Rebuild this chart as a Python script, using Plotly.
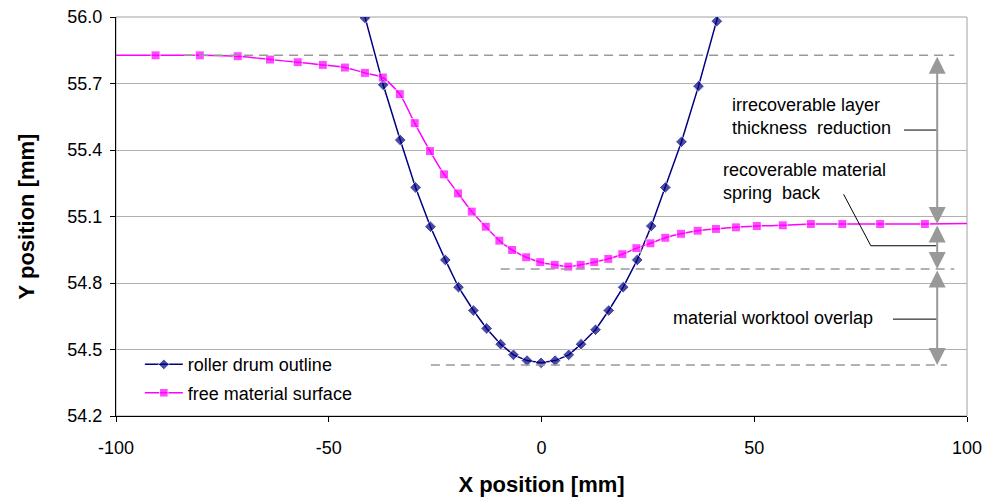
import plotly.graph_objects as go

# ---- data ----
drum_x = [-45.0, -41.5, -37.2, -33.2, -29.6, -26.1, -22.6, -19.5, -16.0, -12.9, -9.6, -6.6, -3.4, -0.1,
          3.2, 6.4, 9.3, 12.7, 15.8, 19.2, 22.5, 25.8, 29.1, 32.9, 36.9, 41.2, 45.0]
drum_y = [56.25, 55.996, 55.694, 55.445, 55.231, 55.054, 54.904, 54.781, 54.676, 54.595, 54.524, 54.476,
          54.450, 54.440, 54.450, 54.476, 54.524, 54.589, 54.676, 54.781, 54.904, 55.057, 55.231,
          55.437, 55.688, 55.981, 56.25]
drum_marker = [0] + [9] * 25 + [0]

mat_x = [-101.0, -90.7, -80.3, -71.4, -63.8, -57.3, -51.4, -46.2, -41.5, -37.3, -33.3, -29.8, -26.2,
         -22.9, -19.6, -16.4, -13.1, -9.9, -6.9, -3.6, -0.3, 3.1, 6.3, 9.2, 12.4, 15.7, 19.0, 22.3,
         25.6, 29.1, 32.8, 36.7, 41.0, 45.7, 50.6, 56.7, 63.3, 70.7, 79.6, 90.1, 101.0]
mat_y = [55.827, 55.827, 55.827, 55.823, 55.808, 55.796, 55.784, 55.772, 55.748, 55.727, 55.652, 55.521,
         55.395, 55.290, 55.204, 55.122, 55.054, 54.991, 54.949, 54.916, 54.894, 54.882, 54.874,
         54.882, 54.894, 54.909, 54.930, 54.957, 54.979, 55.004, 55.022, 55.036, 55.044, 55.051,
         55.057, 55.060, 55.066, 55.066, 55.066, 55.066, 55.069]
mat_marker = [0] + [9] * 39 + [0]

# reference levels (dashed lines): level, x start, x end
ref_levels = [55.827, 54.863, 54.430]
ref_start = [-84.0, -9.6, -26.0]
ref_end = [97.0, 97.0, 95.3]

# dimension arrows at x = arrow_x: (from, to)
arrow_x = 93.0
arrow_spans = [(55.827, 55.066), (55.066, 54.863), (54.863, 54.430)]

# labels: text, x, y, leader line points
labels = ["irrecoverable layer<br>thickness  reduction",
          "recoverable material<br>spring  back",
          "material worktool overlap"]
label_x = [44.4, 42.2, 30.4]
label_y = [55.55, 55.257, 54.641]
leaders = [[(85.2, 55.49), (93.0, 55.49)],
           [(71.0, 55.20), (77.4, 54.968), (92.8, 54.968)],
           [(82.6, 54.637), (92.9, 54.637)]]

x_ticks = [-100, -50, 0, 50, 100]
x_ticktext = ["-100", "-50", "0", "50", "100"]
y_ticks = [54.2, 54.5, 54.8, 55.1, 55.4, 55.7, 56.0]

FONT = "Arial, Liberation Sans, sans-serif"
GRAY = "#999999"

fig = go.Figure()
fig.add_trace(go.Scatter(
    x=drum_x, y=drum_y, name="roller drum outline", mode="lines+markers",
    line=dict(color="#000080", width=1.5),
    marker=dict(symbol="diamond", size=drum_marker, color="#000080"),
    legendgroup="a"))
fig.add_trace(go.Scatter(
    x=mat_x, y=mat_y, name="free material surface", mode="lines+markers",
    line=dict(color="#FF00FF", width=1.5, shape="spline", smoothing=0.6),
    marker=dict(symbol="square", size=mat_marker, color="#FF00FF"),
    legendgroup="b"))

shapes = []
shapes.append(dict(type="rect", xref="x domain", yref="y domain", x0=0, x1=1, y0=0, y1=1,
                   line=dict(color="#a0a0a0", width=1), layer="below"))
for lv, xs, xe in zip(ref_levels, ref_start, ref_end):
    shapes.append(dict(type="line", xref="x", yref="y", x0=xs, x1=xe, y0=lv, y1=lv,
                       line=dict(color=GRAY, width=1.5, dash="9px,6px")))
for pts in leaders:
    path = "M " + " L ".join(f"{px},{py}" for px, py in pts)
    shapes.append(dict(type="path", xref="x", yref="y", path=path,
                       line=dict(color="black", width=1)))
fig.update_layout(shapes=shapes)

for y0, y1 in arrow_spans:
    fig.add_annotation(x=arrow_x, y=y1, ax=arrow_x, ay=y0, xref="x", yref="y", axref="x", ayref="y",
                       text="", showarrow=True, arrowside="end+start",
                       arrowhead=2, startarrowhead=2, arrowsize=1.7, startarrowsize=1.7,
                       arrowwidth=2, arrowcolor=GRAY, standoff=0, startstandoff=0)

for t, lx, ly in zip(labels, label_x, label_y):
    fig.add_annotation(x=lx, y=ly, xref="x", yref="y", text=t, showarrow=False,
                       xanchor="left", yanchor="middle", align="left",
                       font=dict(family=FONT, size=18, color="black"))

fig.update_layout(
    width=990, height=503,
    margin=dict(l=116, r=23, t=17, b=87),
    paper_bgcolor="white", plot_bgcolor="white",
    font=dict(family=FONT, size=18, color="black"),
    showlegend=True,
    legend=dict(x=0.028, y=0.175, xanchor="left", yanchor="top", bgcolor="rgba(0,0,0,0)",
                font=dict(family=FONT, size=18), tracegroupgap=2, itemwidth=38),
    xaxis=dict(range=[-100, 100], tickvals=x_ticks, ticktext=x_ticktext, ticks="outside", ticklen=5,
               tickcolor="black", showline=True, linecolor="black", linewidth=1, showgrid=False,
               zeroline=False, tickfont=dict(family=FONT, size=18), ticklabelstandoff=10,
               automargin=False,
               title=dict(text="<b>X position [mm]</b>", font=dict(family=FONT, size=22), standoff=20)),
    yaxis=dict(range=[54.2, 56.0], tickvals=y_ticks, tickformat=".1f", ticks="outside", ticklen=5,
               tickcolor="black", showline=True, linecolor="black", linewidth=1,
               showgrid=True, gridcolor="#b0b0b0", gridwidth=1, zeroline=False,
               tickfont=dict(family=FONT, size=18), ticklabelstandoff=4, automargin=False,
               title=dict(text="<b>Y position [mm]</b>", font=dict(family=FONT, size=22), standoff=26)),
)

fig.write_html("out.html")
